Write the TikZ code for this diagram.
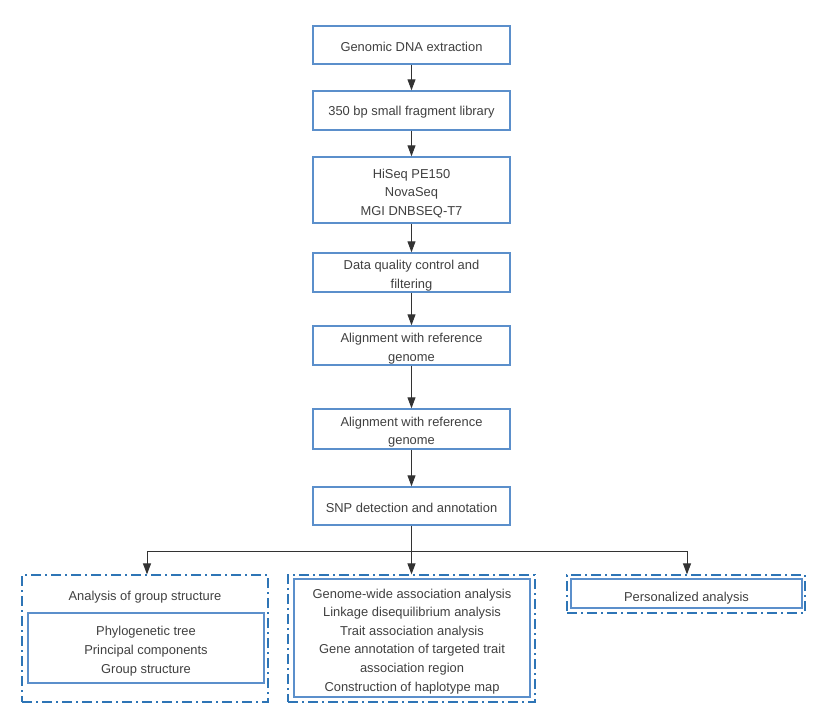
\documentclass[tikz,border=0pt]{standalone}
\usepackage{fontspec}
\setmainfont{Liberation Sans}
\usetikzlibrary{arrows.meta}
\definecolor{boxblue}{HTML}{5B8FCB}
\definecolor{dashblue}{HTML}{2E75B6}
\definecolor{txt}{HTML}{404040}
\definecolor{arr}{HTML}{333333}
\begin{document}
\begin{tikzpicture}[x=1pt,y=-1pt,
  tx/.style={text=txt,align=center,inner sep=0pt,font=\fontsize{12.9}{18.6}\selectfont,yshift=-2pt},
  txm/.style={tx,yshift=-1.2pt},
  stepbox/.style={draw=boxblue,line width=1.4pt,fill=white,minimum width=197pt,inner sep=0pt},
  grpbox/.style={draw=dashblue,line width=1.2pt,dash pattern=on 10pt off 4pt on 2pt off 4pt,inner sep=0pt},
  innerbox/.style={draw=boxblue,line width=1.4pt,inner sep=0pt},
  conn/.style={draw=arr,line width=1pt,-{Triangle[length=11pt,width=8pt]}},
  plain/.style={draw=arr,line width=1pt}]
\useasboundingbox (0,0) rectangle (820,721);
\node[stepbox,minimum height=38pt,label={[tx]center:Genomic DNA extraction}] (b1) at (411.5,45) {};
\node[stepbox,minimum height=39pt,label={[tx]center:350 bp small fragment library}] (b2) at (411.5,110.5) {};
\node[stepbox,minimum height=66pt,label={[txm]center:{HiSeq PE150\\NovaSeq\\MGI DNBSEQ-T7}}] (b3) at (411.5,190) {};
\node[stepbox,minimum height=39pt,label={[txm]center:{Data quality control and\\filtering}}] (b4) at (411.5,272.5) {};
\node[stepbox,minimum height=39pt,label={[txm]center:{Alignment with reference\\genome}}] (b5) at (411.5,345.5) {};
\node[stepbox,minimum height=40pt,label={[txm]center:{Alignment with reference\\genome}}] (b6) at (411.5,429) {};
\node[stepbox,minimum height=38pt,label={[tx]center:SNP detection and annotation}] (b7) at (411.5,506) {};
\draw[conn] (b1) -- (b2);
\draw[conn] (b2) -- (b3);
\draw[conn] (b3) -- (b4);
\draw[conn] (b4) -- (b5);
\draw[conn] (b5) -- (b6);
\draw[conn] (b6) -- (b7);
% groups
\node[grpbox,minimum width=246pt,minimum height=127pt] (g1) at (145,638.5) {};
\node[grpbox,minimum width=247pt,minimum height=127pt] (g2) at (411.5,638.5) {};
\node[grpbox,minimum width=238pt,minimum height=38pt] (g3) at (686,594) {};
\node[tx] (t1) at (145,595) {Analysis of group structure};
\node[innerbox,minimum width=236pt,minimum height=70pt,label={[txm]center:{Phylogenetic tree\\Principal components\\Group structure}}] (i1) at (146,648) {};
\node[innerbox,minimum width=236pt,minimum height=118pt,label={[txm]center:{Genome-wide association analysis\\Linkage disequilibrium analysis\\Trait association analysis\\Gene annotation of targeted trait\\association region\\Construction of haplotype map}}] (i2) at (412,638) {};
\node[innerbox,minimum width=231pt,minimum height=29pt,label={[tx,yshift=-2.5pt]center:Personalized analysis}] (i3) at (686.5,593.5) {};
% branch
\coordinate (j) at (411.5,551);
\coordinate (jl) at (147,551);
\coordinate (jr) at (687,551);
\draw[plain] (b7.south) -- (j);
\draw[plain] (jl) -- (jr);
\draw[conn] (jl) -- (g1.north -| jl);
\draw[conn] (j) -- (g2.north -| j);
\draw[conn] (jr) -- (g3.north -| jr);
\end{tikzpicture}
\end{document}
